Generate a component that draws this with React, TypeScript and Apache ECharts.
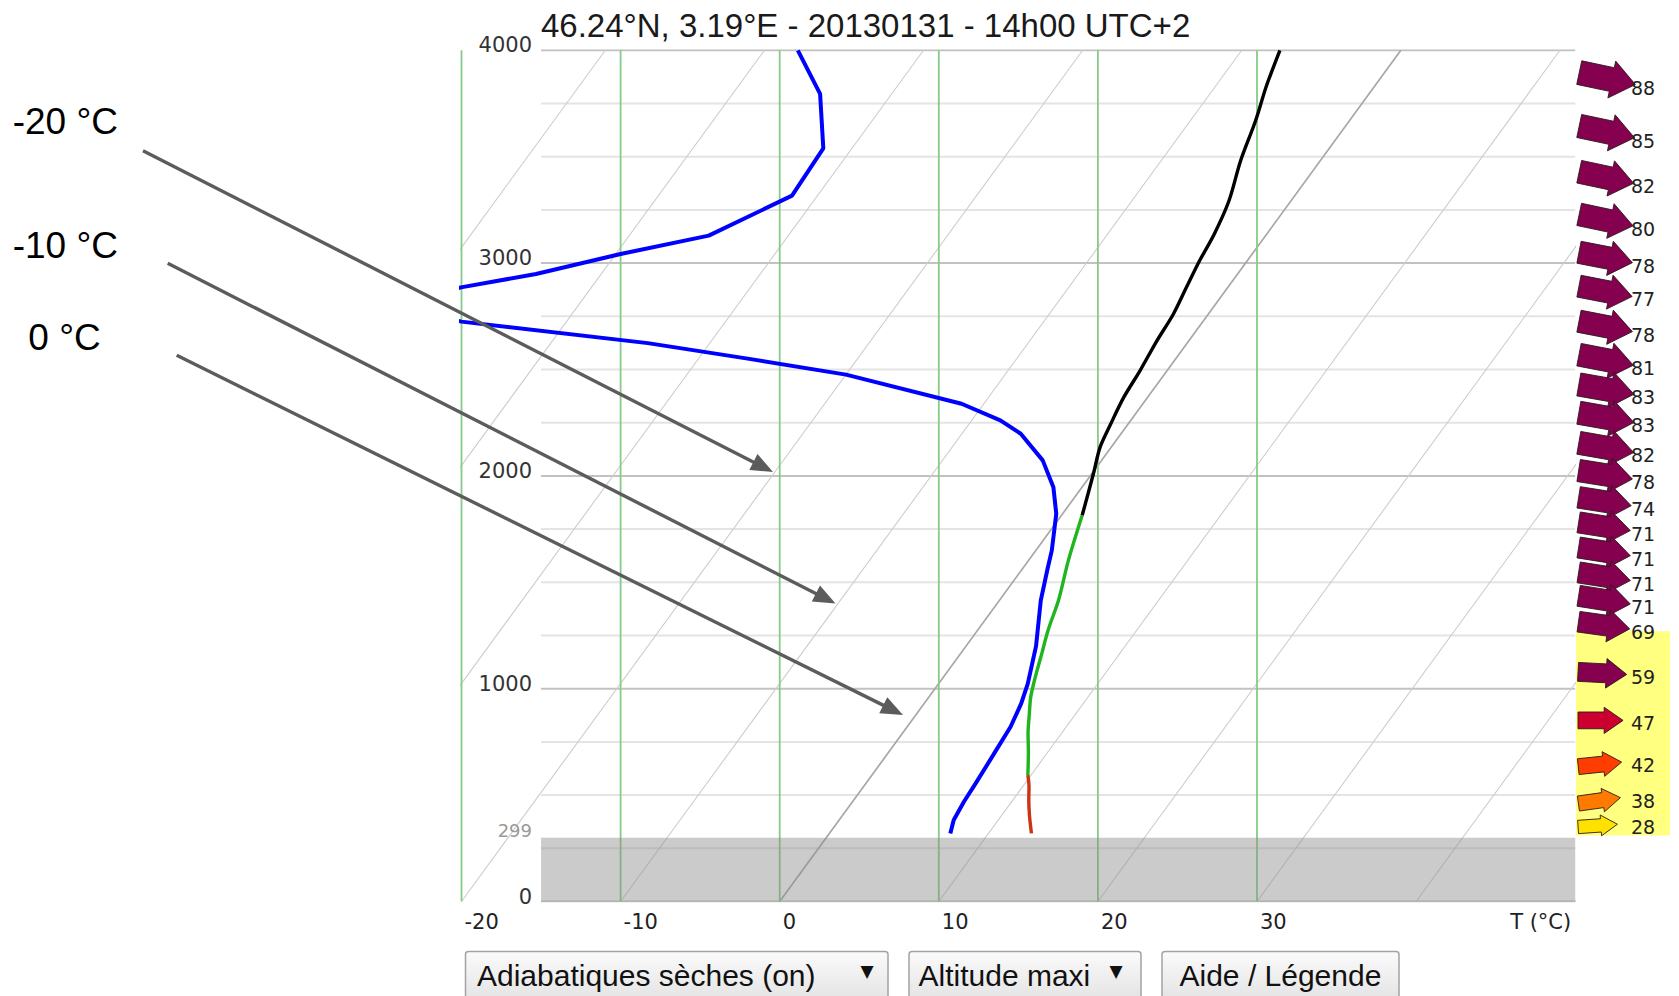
import React, { useEffect, useRef } from "react";
import * as echarts from "echarts";

// ---------- data ----------
const TITLE = "46.24°N, 3.19°E - 20130131 - 14h00 UTC+2";
const SKEW = 9.76; // °C per km: skew of the diagram (isotherms lean right)

const X_MIN = -20;
const X_MAX = 50;
const X_LABEL_MAX = 30;
const ALT_MIN = 0;
const ALT_MAX = 4000;
const GROUND_ALT = 299;

const ISOTHERMS = [-60, -50, -40, -30, -20, -10, 0, 10, 20, 30, 40, 50];
const DRY_ADIABATS = [-20, -10, 0, 10, 20, 30];
const MAJOR_ALTS = [0, 1000, 2000, 3000, 4000];
const MINOR_ALTS = [250, 500, 750, 1250, 1500, 1750, 2250, 2500, 2750, 3250, 3500, 3750];

// temperature profile (altitude m, temperature °C)
const TEMP_ALT = [320, 400, 477, 540, 594, 700, 790, 880, 961, 1050, 1149, 1280, 1417, 1603, 1815, 2010, 2135, 2245, 2370, 2495, 2630, 2761, 2885, 3012, 3137, 3293, 3480, 3669, 3830, 4000];
const TEMP_C = [12.7, 11.8, 11.0, 10.4, 9.8, 8.8, 7.9, 7.1, 6.4, 5.8, 5.2, 4.4, 3.7, 2.5, 1.3, 0.1, -0.7, -1.1, -1.5, -1.7, -2.0, -2.2, -2.6, -3.0, -3.3, -3.9, -5.0, -5.9, -6.8, -7.6];
const SUPERADIABATIC_TOP = 594;
const THERMAL_TOP = 1815;

// dew point profile (altitude m, dew point °C)
const DEW_ALT = [320, 383, 470, 555, 690, 821, 930, 1024, 1200, 1415, 1560, 1650, 1822, 1947, 2073, 2198, 2261, 2339, 2476, 2550, 2624, 2725, 2805, 2886, 2949, 3043, 3129, 3317, 3539, 3795, 4000];
const DEW_C = [7.6, 7.2, 7.0, 6.9, 6.7, 6.5, 6.1, 5.6, 4.4, 2.6, 1.6, 1.0, -0.4, -1.8, -3.7, -6.3, -8.2, -11.4, -20.0, -26.8, -33.9, -46.6, -51.4, -48.2, -44.1, -39.7, -35.0, -31.6, -31.8, -34.5, -37.9];

// winds (altitude m, speed km/h, direction °)
const WIND_ALT = [3825, 3575, 3361, 3161, 2988, 2829, 2664, 2506, 2370, 2237, 2096, 1971, 1846, 1729, 1611, 1494, 1384, 1267, 1053, 837, 641, 474, 349];
const WIND_KMH = [88, 85, 82, 80, 78, 77, 78, 81, 83, 83, 82, 78, 74, 71, 71, 71, 71, 69, 59, 47, 42, 38, 28];
const WIND_DIR = [282, 282, 282, 282, 281, 281, 281, 281, 280, 280, 280, 279, 279, 279, 279, 279, 279, 278, 273, 270, 264, 262, 266];
const THERMAL_ZONE = [310, 1270];

const ANNOT_LABELS = ["-20 °C", "-10 °C", "0 °C"];
const BUTTON_LABELS = ["Adiabatiques sèches (on)", "Altitude maxi", "Aide / Légende"];

// ---------- helpers ----------
const sx = (t: number, alt: number) => t + (SKEW * alt) / 1000;

function lineSeries(data: number[][], color: string, width: number, z: number, extra: any = {}) {
  return {
    type: "line",
    xAxisIndex: 0,
    yAxisIndex: 0,
    data,
    symbol: "none",
    silent: true,
    clip: true,
    z,
    lineStyle: { color, width },
    ...extra,
  };
}

function profileSegment(lo: number, hi: number) {
  return TEMP_ALT.map((a, i) => [a, TEMP_C[i]])
    .filter(([a]) => a >= lo && a <= hi)
    .map(([a, t]) => [sx(t, a), a]);
}

function windColor(s: number) {
  if (s >= 55) return "#85004f";
  if (s >= 45) return "#cc0030";
  if (s >= 40) return "#ff3d00";
  if (s >= 33) return "#ff7a00";
  return "#ffe100";
}

function buildOption() {
  const series: any[] = [];

  // horizontal grid lines
  MINOR_ALTS.forEach((a) => series.push(lineSeries([[-15, a], [X_MAX, a]], "#e4e4e4", 2, 1)));
  MAJOR_ALTS.forEach((a) => series.push(lineSeries([[-15, a], [X_MAX, a]], "#c2c2c2", 2, 1)));

  // isotherms (diagonals)
  ISOTHERMS.forEach((t) =>
    series.push(
      lineSeries([[sx(t, ALT_MIN), ALT_MIN], [sx(t, ALT_MAX), ALT_MAX]], t === 0 ? "#a6a6a6" : "#cdcdcd", t === 0 ? 1.7 : 1.1, 2)
    )
  );

  // dry adiabats (green verticals)
  DRY_ADIABATS.forEach((t) => series.push(lineSeries([[t, ALT_MIN], [t, ALT_MAX]], "#86cb86", 1.8, 2)));

  // ground overlay + "299" label
  series.push({
    type: "custom",
    xAxisIndex: 0,
    yAxisIndex: 0,
    silent: true,
    z: 3,
    data: [[GROUND_ALT]],
    renderItem: (params: any, api: any) => {
      const g = api.value(0);
      const p1 = api.coord([-15, g]);
      const p2 = api.coord([X_MAX, ALT_MIN]);
      const left = api.coord([X_MIN, g])[0];
      return {
        type: "group",
        children: [
          {
            type: "rect",
            shape: { x: p1[0], y: p1[1], width: p2[0] - p1[0], height: p2[1] - p1[1] },
            style: { fill: "rgba(140,140,140,0.45)" },
          },
          {
            type: "text",
            style: {
              text: String(g),
              x: left + 70.5,
              y: p1[1] - 7,
              align: "right",
              verticalAlign: "middle",
              fontFamily: "DejaVu Sans",
              fontSize: 18,
              fill: "#9a9a9a",
            },
          },
        ],
      };
    },
  });

  // dew point
  series.push(lineSeries(DEW_ALT.map((a, i) => [sx(DEW_C[i], a), a]), "#0000ff", 4, 10));

  // temperature profile, three segments
  series.push(lineSeries(profileSegment(0, SUPERADIABATIC_TOP), "#cc3311", 3.4, 11, { smooth: 0.3 }));
  series.push(lineSeries(profileSegment(SUPERADIABATIC_TOP, THERMAL_TOP), "#1fb51f", 3.4, 11, { smooth: 0.3 }));
  series.push(lineSeries(profileSegment(THERMAL_TOP, ALT_MAX), "#000000", 3.4, 11, { smooth: 0.3 }));

  // yellow zone in wind column
  series.push({
    type: "custom",
    xAxisIndex: 1,
    yAxisIndex: 1,
    silent: true,
    z: 3,
    data: [THERMAL_ZONE],
    renderItem: (params: any, api: any) => {
      const p1 = api.coord([0, api.value(1)]);
      const p2 = api.coord([1, api.value(0)]);
      return {
        type: "rect",
        shape: { x: p1[0] + 1, y: p1[1], width: p2[0] - p1[0] - 1, height: p2[1] - p1[1] },
        style: { fill: "#ffff80" },
      };
    },
  });

  // wind arrows
  series.push({
    type: "custom",
    xAxisIndex: 1,
    yAxisIndex: 1,
    silent: true,
    z: 6,
    data: WIND_ALT.map((a, i) => [0, a, WIND_KMH[i], WIND_DIR[i]]),
    renderItem: (params: any, api: any) => {
      const alt = api.value(1);
      const spd = api.value(2);
      const dir = api.value(3);
      const [x0, y] = api.coord([0, alt]);
      const L = 31 + 0.3 * spd;
      const H = 13 + 0.28 * spd;
      const hl = 0.42 * L;
      const sh = 0.64 * H;
      const th = ((dir - 270) * Math.PI) / 180;
      const c = Math.cos(th);
      const s = Math.sin(th);
      const tipX = x0 + 3 + L;
      const tipY = y - 3;
      const local = [
        [-L, -sh / 2],
        [-hl, -sh / 2],
        [-hl, -H / 2],
        [0, 0],
        [-hl, H / 2],
        [-hl, sh / 2],
        [-L, sh / 2],
      ];
      const pts = local.map(([px, py]) => [tipX + px * c - py * s, tipY + px * s + py * c]);
      return {
        type: "group",
        children: [
          {
            type: "polygon",
            shape: { points: pts },
            style: { fill: windColor(spd), stroke: "#2a1a1a", lineWidth: 0.9 },
          },
          {
            type: "text",
            z2: 10,
            style: {
              text: String(spd),
              x: x0 + 56,
              y,
              align: "left",
              verticalAlign: "middle",
              fontFamily: "DejaVu Sans",
              fontSize: 19,
              fill: "#222",
            },
          },
        ],
      };
    },
  });

  // ---------- graphic overlays ----------
  const graphic: any[] = [];
  const annotPos = [
    { x: 12.7, y: 121, from: [143, 150.7], to: [773, 472] },
    { x: 12.7, y: 245, from: [167.7, 263.3], to: [835.5, 603.5] },
    { x: 28.3, y: 337, from: [176.7, 355.3], to: [903, 715] },
  ];
  ANNOT_LABELS.forEach((t, i) => {
    const p = annotPos[i];
    graphic.push({
      type: "text",
      x: p.x,
      y: p.y,
      style: {
        text: t,
        fontFamily: "Liberation Sans",
        fontSize: 37,
        fill: "#000",
        verticalAlign: "middle",
        align: "left",
      },
    });
    const dx = p.to[0] - p.from[0];
    const dy = p.to[1] - p.from[1];
    const len = Math.hypot(dx, dy);
    const ux = dx / len;
    const uy = dy / len;
    const hl = 22;
    const hw = 9;
    const bx = p.to[0] - ux * hl;
    const by = p.to[1] - uy * hl;
    graphic.push({
      type: "line",
      shape: { x1: p.from[0], y1: p.from[1], x2: bx + ux * 2, y2: by + uy * 2 },
      style: { stroke: "#5c5c5c", lineWidth: 3.4 },
      z: 100,
    });
    graphic.push({
      type: "polygon",
      shape: {
        points: [
          [p.to[0], p.to[1]],
          [bx - uy * hw, by + ux * hw],
          [bx + uy * hw, by - ux * hw],
        ],
      },
      style: { fill: "#5c5c5c" },
      z: 100,
    });
  });

  const btnPos = [
    { x: 465.5, w: 422.5, tx: 477, arrow: 867 },
    { x: 909, w: 232, tx: 918.5, arrow: 1116 },
    { x: 1162, w: 237, tx: 1179.5, arrow: 0 },
  ];
  BUTTON_LABELS.forEach((t, i) => {
    const b = btnPos[i];
    const children: any[] = [
      {
        type: "rect",
        shape: { x: b.x, y: 951.5, width: b.w, height: 60, r: 3 },
        style: {
          fill: new echarts.graphic.LinearGradient(0, 0, 0, 1, [
            { offset: 0, color: "#fbfbfb" },
            { offset: 1, color: "#dedede" },
          ]),
          stroke: "#a3a3a3",
          lineWidth: 1.5,
        },
      },
      {
        type: "text",
        style: {
          text: t,
          x: b.tx,
          y: 975,
          fontFamily: "Liberation Sans",
          fontSize: 30,
          fill: "#111",
          verticalAlign: "middle",
          align: "left",
        },
      },
    ];
    if (b.arrow) {
      children.push({
        type: "text",
        style: {
          text: "▼",
          x: b.arrow,
          y: 971,
          fontFamily: "DejaVu Sans",
          fontSize: 17,
          fill: "#111",
          verticalAlign: "middle",
          align: "center",
        },
      });
    }
    graphic.push({ type: "group", children, z: 100 });
  });

  return {
    animation: false,
    backgroundColor: "#ffffff",
    title: {
      text: TITLE,
      left: 536,
      top: 4,
      textStyle: { fontFamily: "Liberation Sans", fontSize: 33, fontWeight: "normal", color: "#1a1a1a" },
    },
    grid: [
      { left: 461.5, top: 50.3, width: 1113.7, height: 851.2, outerBoundsMode: "none" },
      { left: 1575, top: 50.3, width: 95, height: 851.2, outerBoundsMode: "none" },
    ],
    xAxis: [
      {
        type: "value",
        gridIndex: 0,
        min: X_MIN,
        max: X_MAX,
        interval: 10,
        axisLine: { show: false },
        axisTick: { show: false },
        splitLine: { show: false },
        axisLabel: {
          formatter: (v: number) => (v <= X_LABEL_MAX ? String(v) : ""),
          align: "left",
          padding: [0, 0, 0, 3],
          margin: 10,
          fontFamily: "DejaVu Sans",
          fontSize: 21,
          color: "#222",
        },
        name: "T (°C)",
        nameLocation: "end",
        nameGap: 0,
        nameTextStyle: {
          fontFamily: "DejaVu Sans",
          fontSize: 21,
          color: "#222",
          align: "right",
          verticalAlign: "top",
          padding: [10, 4, 0, 0],
        },
      },
      { type: "value", gridIndex: 1, min: 0, max: 1, show: false },
    ],
    yAxis: [
      {
        type: "value",
        gridIndex: 0,
        min: ALT_MIN,
        max: ALT_MAX,
        interval: 1000,
        axisLine: { show: false },
        axisTick: { show: false },
        splitLine: { show: false },
        axisLabel: {
          formatter: (v: number) => String(v),
          inside: true,
          align: "right",
          margin: 70.5,
          verticalAlign: "bottom",
          lineHeight: 10,
          fontFamily: "DejaVu Sans",
          fontSize: 21,
          color: "#333",
        },
      },
      { type: "value", gridIndex: 1, min: ALT_MIN, max: ALT_MAX, show: false },
    ],
    series,
    graphic,
  };
}

export default function App() {
  const ref = useRef<HTMLDivElement>(null);
  useEffect(() => {
    if (!ref.current) return;
    const chart = echarts.init(ref.current, null, { renderer: "svg" });
    chart.setOption(buildOption() as any);
    return () => chart.dispose();
  }, []);
  return (
    <div
      ref={ref}
      style={{ position: "absolute", left: 0, top: 0, width: 1679, height: 996, background: "#fff" }}
    />
  );
}
